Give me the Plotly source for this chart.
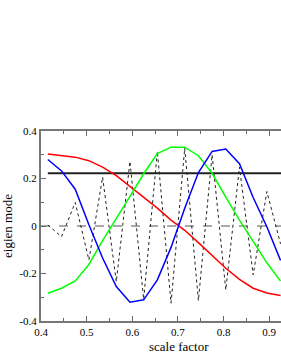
import plotly.graph_objects as go

scale = [0.415, 0.445, 0.475, 0.505, 0.535, 0.565, 0.595, 0.625, 0.655,
         0.685, 0.715, 0.745, 0.775, 0.805, 0.835, 0.865, 0.895, 0.925]
red = [0.303, 0.298, 0.290, 0.275, 0.248, 0.212, 0.167, 0.120, 0.075,
       0.025, -0.018, -0.070, -0.125, -0.178, -0.225, -0.262, -0.282, -0.293]
green = [-0.283, -0.262, -0.231, -0.162, -0.062, 0.030, 0.125, 0.220, 0.305,
         0.332, 0.332, 0.296, 0.222, 0.122, 0.025, -0.065, -0.155, -0.232]
blue = [0.280, 0.232, 0.155, 0.005, -0.135, -0.255, -0.321, -0.311, -0.227,
        -0.090, 0.075, 0.225, 0.314, 0.324, 0.262, 0.120, -0.003, -0.145]
dotted = [0.004, -0.045, 0.099, -0.143, 0.206, -0.235, 0.272, -0.309, 0.314,
          -0.325, 0.328, -0.314, 0.300, -0.269, 0.248, -0.206, 0.145, -0.075]
level = 0.222
xline = [0.4, 0.95]
hline_x = [0.415, 0.95]

xticks = [0.4, 0.5, 0.6, 0.7, 0.8, 0.9]
xticklabels = ["0.4", "0.5", "0.6", "0.7", "0.8", "0.9"]
yticks = [-0.4, -0.2, 0, 0.2, 0.4]
yticklabels = ["-0.4", "-0.2", "0", "0.2", "0.4"]
x_title = "scale factor"
y_title = "eigien mode"

fig = go.Figure()
fig.add_trace(go.Scatter(x=xline, y=[0, 0], mode="lines",
                         line=dict(color="#555", width=1, dash="dash"), showlegend=False))
fig.add_trace(go.Scatter(x=scale, y=dotted, mode="lines",
                         line=dict(color="#222", width=1, dash="dot"), showlegend=False))
fig.add_trace(go.Scatter(x=hline_x, y=[level, level], mode="lines",
                         line=dict(color="#222", width=2), showlegend=False))
fig.add_trace(go.Scatter(x=scale, y=red, mode="lines",
                         line=dict(color="#ff0000", width=1.5), showlegend=False))
fig.add_trace(go.Scatter(x=scale, y=green, mode="lines",
                         line=dict(color="#00ff00", width=1.5), showlegend=False))
fig.add_trace(go.Scatter(x=scale, y=blue, mode="lines",
                         line=dict(color="#0000ff", width=1.5), showlegend=False))
# dummy trace to activate top axis
fig.add_trace(go.Scatter(x=[0.4], y=[0], xaxis="x2", mode="lines",
                         line=dict(width=0), showlegend=False, hoverinfo="skip"))

font = "Liberation Serif, Times New Roman, serif"
xr = [0.4, 0.926]
fig.update_layout(
    width=281, height=363,
    margin=dict(l=41, r=0, t=131, b=42),
    paper_bgcolor="white", plot_bgcolor="white",
    font=dict(family=font, size=12, color="black"),
    xaxis=dict(range=xr, tickvals=xticks, ticktext=xticklabels,
               ticks="inside", ticklen=5, tickwidth=1, tickcolor="#666",
               showline=True, linecolor="#777", linewidth=2,
               showgrid=False, zeroline=False,
               minor=dict(dtick=0.05, ticks="inside", ticklen=3, tickcolor="#666"),
               tickfont=dict(family=font, size=11)),
    xaxis2=dict(range=xr, overlaying="x", side="top",
                showticklabels=False, tickvals=xticks,
                ticks="inside", ticklen=5, tickwidth=1, tickcolor="#666",
                showline=True, linecolor="#777", linewidth=2,
                showgrid=False, zeroline=False,
                minor=dict(dtick=0.05, ticks="inside", ticklen=3, tickcolor="#666")),
    yaxis=dict(range=[-0.4, 0.4], tickvals=yticks, ticktext=yticklabels,
               ticks="inside", ticklen=5, tickwidth=1, tickcolor="#666",
               showline=True, linecolor="#777", linewidth=2,
               showgrid=False, zeroline=False,
               minor=dict(dtick=0.1, ticks="inside", ticklen=3, tickcolor="#666"),
               tickfont=dict(family=font, size=11),
               title=dict(text=y_title, font=dict(family=font, size=13), standoff=5)),
    annotations=[dict(text=x_title, xref="x", x=0.703, yref="paper", y=0,
                      yanchor="top", yshift=-16, showarrow=False,
                      font=dict(family=font, size=13))],
)
fig.write_html("out.html", config={"displayModeBar": False},
               post_script="document.body.style.margin='0';document.body.style.overflow='hidden';")
